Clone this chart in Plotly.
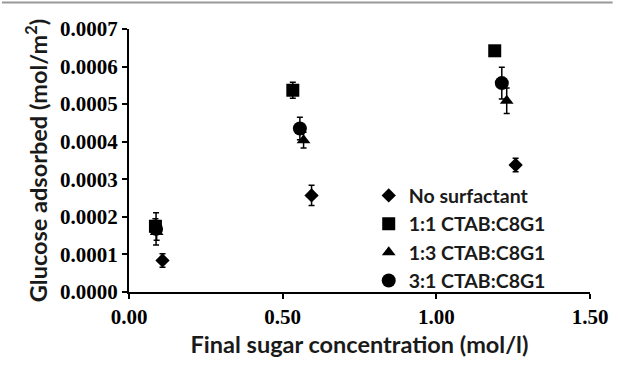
import plotly.graph_objects as go

names = ["No surfactant", "1:1 CTAB:C8G1", "1:3 CTAB:C8G1", "3:1 CTAB:C8G1"]
symbols = ["diamond", "square", "triangle-up", "circle"]
sizes = [11, 13, 12, 14]

x_none = [0.109, 0.594, 1.258]
y_none = [0.000084, 0.000257, 0.000338]
e_none = [0.000018, 0.000027, 0.000018]

x_11 = [0.086, 0.533, 1.190]
y_11 = [0.000175, 0.000537, 0.000642]
e_11 = [0.000020, 0.000021, 0.000005]

x_13 = [0.090, 0.568, 1.229]
y_13 = [0.000160, 0.000404, 0.000509]
e_13 = [0.000022, 0.000021, 0.000034]

x_31 = [0.088, 0.556, 1.213]
y_31 = [0.000168, 0.000435, 0.000556]
e_31 = [0.000043, 0.000030, 0.000042]

series = [(x_none, y_none, e_none), (x_11, y_11, e_11), (x_13, y_13, e_13), (x_31, y_31, e_31)]

x_ticks = [0.0, 0.5, 1.0, 1.5]
x_ticktext = ["0.00", "0.50", "1.00", "1.50"]
y_ticks = [0.0, 0.0001, 0.0002, 0.0003, 0.0004, 0.0005, 0.0006, 0.0007]
y_ticktext = ["0.0000", "0.0001", "0.0002", "0.0003", "0.0004", "0.0005", "0.0006", "0.0007"]

fig = go.Figure()
for (xs, ys, es), name, sym, sz in zip(series, names, symbols, sizes):
    fig.add_trace(go.Scatter(
        x=xs, y=ys, mode="markers", name="<b>" + name + "</b>",
        marker=dict(symbol=sym, size=sz, color="black"),
        error_y=dict(type="data", array=es, visible=True, color="black", thickness=1.5, width=3),
    ))

tickfont = dict(family="Liberation Serif", size=21, color="black", weight="bold")
titlefont = dict(family="Lato", size=23.5, color="#1a1a1a")

fig.update_layout(
    width=620, height=366,
    margin=dict(l=129, r=23, t=29, b=70),
    paper_bgcolor="white", plot_bgcolor="white",
    font=dict(family="Lato"),
    showlegend=True,
    legend=dict(x=0.52, y=0.44, xanchor="left", yanchor="top",
                font=dict(family="Lato", size=19.5, color="#1a1a1a"),
                bgcolor="rgba(0,0,0,0)", tracegroupgap=0),
    xaxis=dict(range=[0, 1.5], tickvals=x_ticks, ticktext=x_ticktext,
               showgrid=False, zeroline=False, showline=True, linecolor="black", linewidth=2,
               ticks="outside", ticklen=5, tickwidth=1.5, tickcolor="black",
               tickfont=tickfont,
               title=dict(text="<b>Final sugar concentration (mol/l)</b>", font=titlefont, standoff=8)),
    yaxis=dict(range=[0, 0.0007], tickvals=y_ticks, ticktext=y_ticktext,
               showgrid=False, zeroline=False, showline=True, linecolor="black", linewidth=2,
               ticks="outside", ticklen=5, tickwidth=1.5, tickcolor="black",
               tickfont=tickfont,
               title=dict(text="<b>Glucose adsorbed (mol/m<sup>2</sup>)</b>", font=titlefont, standoff=6)),
    shapes=[dict(type="line", xref="paper", yref="paper",
                 x0=-129/468, x1=491/468, y0=294/267, y1=294/267,
                 line=dict(color="#999", width=2))],
)

fig.write_html("out.html")
